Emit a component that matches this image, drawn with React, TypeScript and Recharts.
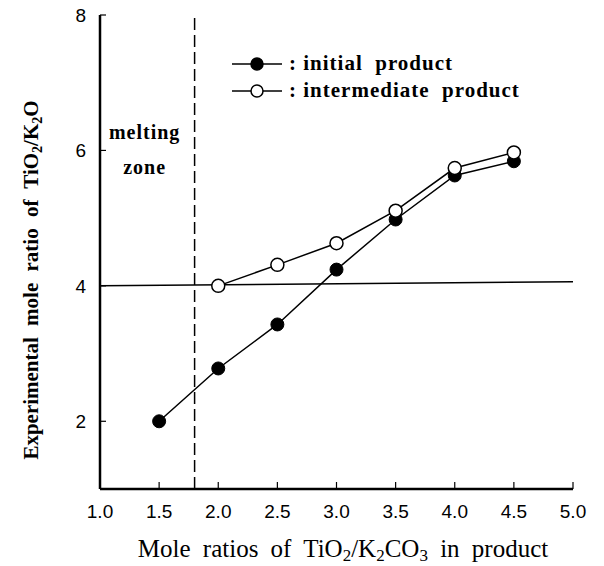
import React from 'react';
import {
  LineChart,
  Line,
  XAxis,
  YAxis,
  ReferenceLine,
  Legend,
  Label,
} from 'recharts';

// mole ratio TiO2/K2CO3 in product
const ratioInitial = [1.5, 2.0, 2.5, 3.0, 3.5, 4.0, 4.5];
const initialProduct = [2.0, 2.78, 3.43, 4.24, 4.98, 5.63, 5.84];

const ratioIntermediate = [2.0, 2.5, 3.0, 3.5, 4.0, 4.5];
const intermediateProduct = [4.0, 4.31, 4.63, 5.11, 5.74, 5.97];

const xTicks = [1.0, 1.5, 2.0, 2.5, 3.0, 3.5, 4.0, 4.5, 5.0];
const xInnerTicks = [1.5, 2.0, 2.5, 3.0, 3.5, 4.0, 4.5];
const yTicks = [2, 4, 6, 8];
const yRightTicks = [2, 4, 6];

const meltingLimit = 1.8;
const guideLevel = [4.0, 4.06];

const initialData = ratioInitial.map((x, i) => ({ x, y: initialProduct[i] }));
const intermediateData = ratioIntermediate.map((x, i) => ({ x, y: intermediateProduct[i] }));

const serif = '"Liberation Serif", "Times New Roman", serif';
const sans = '"Liberation Sans", Arial, sans-serif';

const legendItems = [
  { name: ': initial  product', fill: '#000' },
  { name: ': intermediate  product', fill: '#fff' },
];

function LegendBox() {
  return (
    <div style={{ fontFamily: serif, fontWeight: 'bold', fontSize: 21 }}>
      {legendItems.map((it) => (
        <div key={it.name} style={{ display: 'flex', alignItems: 'center', height: 27 }}>
          <svg width={52} height={16}>
            <line x1={0} y1={8} x2={50} y2={8} stroke="#000" strokeWidth={1.5} />
            <circle cx={25} cy={8} r={6} fill={it.fill} stroke="#000" strokeWidth={1.5} />
          </svg>
          <span style={{ marginLeft: 5, whiteSpace: 'pre', letterSpacing: 1 }}>{it.name}</span>
        </div>
      ))}
    </div>
  );
}

const XTitle = () => (
  <text
    x={343}
    y={557}
    textAnchor="middle"
    fontFamily={serif}
    fontSize={25}
    fill="#000"
    style={{ wordSpacing: 6 }}
  >
    Mole ratios of TiO<tspan dy={4} fontSize={17}>2</tspan>
    <tspan dy={-4}>/K</tspan>
    <tspan dy={4} fontSize={17}>2</tspan>
    <tspan dy={-4}>CO</tspan>
    <tspan dy={4} fontSize={17}>3</tspan>
    <tspan dy={-4}> in product</tspan>
  </text>
);

const YTitle = () => {
  const cx = 38;
  const cy = 280;
  return (
    <text
      x={cx}
      y={cy}
      transform={`rotate(-90 ${cx} ${cy})`}
      textAnchor="middle"
      fontFamily={serif}
      fontWeight="bold"
      fontSize={21}
      fill="#000"
      style={{ wordSpacing: 6 }}
    >
      Experimental mole ratio of TiO<tspan dy={4} fontSize={14}>2</tspan>
      <tspan dy={-4}>/K</tspan>
      <tspan dy={4} fontSize={14}>2</tspan>
      <tspan dy={-4}>O</tspan>
    </text>
  );
};

const MeltingZone = (props: any) => {
  const vb = props.viewBox;
  const cx = vb.x - 50;
  return (
    <g fontFamily={serif} fontWeight="bold" fontSize={20} fill="#000" letterSpacing={1}>
      <text x={cx} y={139} textAnchor="middle">melting</text>
      <text x={cx} y={174} textAnchor="middle">zone</text>
    </g>
  );
};

export default function App() {
  return (
    <div style={{ position: 'absolute', top: 0, left: 0, width: 604, height: 566, background: '#fff' }}>
      <LineChart
        width={604}
        height={566}
        margin={{ top: 15, right: 31, bottom: 37, left: 40 }}
      >
        <XAxis
          dataKey="x"
          type="number"
          domain={[1, 5]}
          ticks={xTicks}
          interval={0}
          allowDataOverflow
          height={40}
          tickSize={-7}
          tickMargin={23}
          tickFormatter={(v: number) => v.toFixed(1)}
          tick={{ fill: '#000', fontFamily: sans, fontSize: 19 }}
          axisLine={{ stroke: '#000', strokeWidth: 2.5 }}
          tickLine={{ stroke: '#000', strokeWidth: 1.2 }}
        >
          <Label content={XTitle} />
        </XAxis>
        <XAxis
          xAxisId="top"
          orientation="top"
          type="number"
          domain={[1, 5]}
          ticks={xInnerTicks}
          interval={0}
          height={0}
          tickSize={-7}
          tickFormatter={() => ''}
          axisLine={{ stroke: '#000', strokeWidth: 2.2 }}
          tickLine={{ stroke: '#000', strokeWidth: 1.2 }}
        />
        <YAxis
          type="number"
          domain={[1, 8]}
          ticks={yTicks}
          interval={0}
          allowDataOverflow
          width={60}
          tickSize={-6}
          tickMargin={20}
          tick={{ fill: '#000', fontFamily: sans, fontSize: 19 }}
          axisLine={{ stroke: '#000', strokeWidth: 2.5 }}
          tickLine={{ stroke: '#000', strokeWidth: 1.2 }}
        >
          <Label content={YTitle} />
        </YAxis>
        <YAxis
          yAxisId="right"
          orientation="right"
          type="number"
          domain={[1, 8]}
          ticks={yRightTicks}
          interval={0}
          width={0}
          tickSize={-6}
          tickFormatter={() => ''}
          axisLine={{ stroke: '#000', strokeWidth: 2.2 }}
          tickLine={{ stroke: '#000', strokeWidth: 1.2 }}
        />
        <ReferenceLine
          segment={[
            { x: 1, y: guideLevel[0] },
            { x: 5, y: guideLevel[1] },
          ]}
          stroke="#000"
          strokeWidth={1.5}
          ifOverflow="extendDomain"
        />
        <ReferenceLine
          x={meltingLimit}
          stroke="#000"
          strokeWidth={1.5}
          strokeDasharray="12 5"
          label={<MeltingZone />}
        />
        <Line
          data={initialData}
          dataKey="y"
          name="initial product"
          stroke="#000"
          strokeWidth={1.5}
          dot={{ r: 6.5, fill: '#000', stroke: '#000', strokeWidth: 1 }}
          isAnimationActive={false}
        />
        <Line
          data={intermediateData}
          dataKey="y"
          name="intermediate product"
          stroke="#000"
          strokeWidth={1.5}
          dot={{ r: 6.5, fill: '#fff', stroke: '#000', strokeWidth: 1.5 }}
          isAnimationActive={false}
        />
        <Legend
          layout="vertical"
          verticalAlign="middle"
          align="center"
          content={() => <LegendBox />}
          wrapperStyle={{ position: 'absolute', top: 50, left: 232, width: 340 }}
        />
      </LineChart>
    </div>
  );
}
